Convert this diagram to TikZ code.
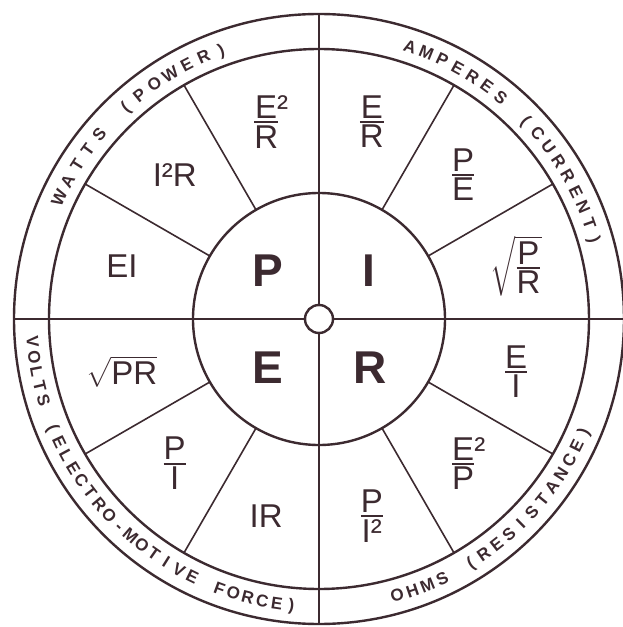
\documentclass[tikz,border=0pt]{standalone}
\usepackage{amsmath}
\usepackage{fontspec}
\setmainfont{Liberation Sans}
\definecolor{ink}{RGB}{60,42,48}
\newcommand{\ovr}[2]{\genfrac{}{}{2pt}{1}{\textstyle\text{#1}}{\textstyle\text{#2}}}
\newcommand{\ringfont}{\fontsize{17}{17}\selectfont\bfseries}

\begin{document}
\begin{tikzpicture}[x=1pt, y=1pt, line width=1.6pt, color=ink,
    ring/.style={draw, circle, inner sep=0pt, outer sep=0pt, minimum size=#1, line width=2.4pt},
    frm/.style={font=\fontsize{33}{36}\selectfont},
    big/.style={font=\fontsize{46}{50}\selectfont\bfseries},
    unit/.style={font=\ringfont, inner sep=0pt, text height=12.2pt, text depth=0pt}]
  \useasboundingbox (-319,-308) rectangle (304,319);
  % circles
  \node[ring=610pt] (outer) at (0,0) {};
  \node[ring=540pt] (middle) at (0,0) {};
  \node[ring=252pt] (inner) at (0,0) {};
  \draw (outer.west) -- (outer.east);
  \draw (outer.north) -- (outer.south);
  \node[ring=28pt, fill=white] (hub) at (0,0) {};
  \foreach \a in {30,60,120,150,210,240,300,330}
    \draw (inner.\a) -- (middle.\a);
  % quantities
  \node[big] (P) at (-51,48) {P};
  \node[big] (I) at (50,48) {I};
  \node[big] (E) at (-51,-49) {E};
  \node[big] (R) at (51,-49) {R};
  % formulas
  \foreach \ang/\lbl in {105/{$\ovr{E\rlap{²}}{R}$}, 135/{I²R}, 165/{EI},
      75/{$\ovr{E}{R}$}, 45/{$\ovr{P}{E}$}, 15/{$\sqrt{\ovr{P}{R}}$},
      195/{$\sqrt{\text{PR}}$}, 225/{$\ovr{P}{I}$}, 255/{IR},
      345/{$\ovr{E}{I}$}, 315/{$\ovr{E\rlap{²}}{P}$}, 285/{$\ovr{P}{I²}$}}
    \node[frm] (f\ang) at (\ang:204) {\lbl};
  % units, one letter at a time
  \foreach \ch [count=\k] in {W,A,T,T,S,{},{(},P,O,W,E,R,{)}} {
    \pgfmathsetmacro\t{155-(\k-1)*3.75}
    \node[unit, rotate=\t-90] (watts\k) at (\t:287) {\ch};
  }
  \foreach \ch [count=\k] in {A,M,P,E,R,E,S,{},{(},C,U,R,R,E,N,T,{)}} {
    \pgfmathsetmacro\t{71.5-(\k-1)*3.47}
    \node[unit, rotate=\t-90] (amps\k) at (\t:287) {\ch};
  }
  \foreach \ch [count=\k] in {V,O,L,T,S,{},{(},E,L,E,C,T,R,O,-,M,O,T,I,V,E,{},F,O,R,C,E,{)}} {
    \pgfmathsetmacro\t{184.6+(\k-1)*2.96}
    \node[unit, rotate=\t+90] (volts\k) at (\t:287) {\ch};
  }
  \foreach \ch [count=\k] in {O,H,M,S,{},{(},R,E,S,I,S,T,A,N,C,E,{)}} {
    \pgfmathsetmacro\t{285.8+(\k-1)*3.2}
    \node[unit, rotate=\t+90] (ohms\k) at (\t:287) {\ch};
  }
\end{tikzpicture}
\end{document}
